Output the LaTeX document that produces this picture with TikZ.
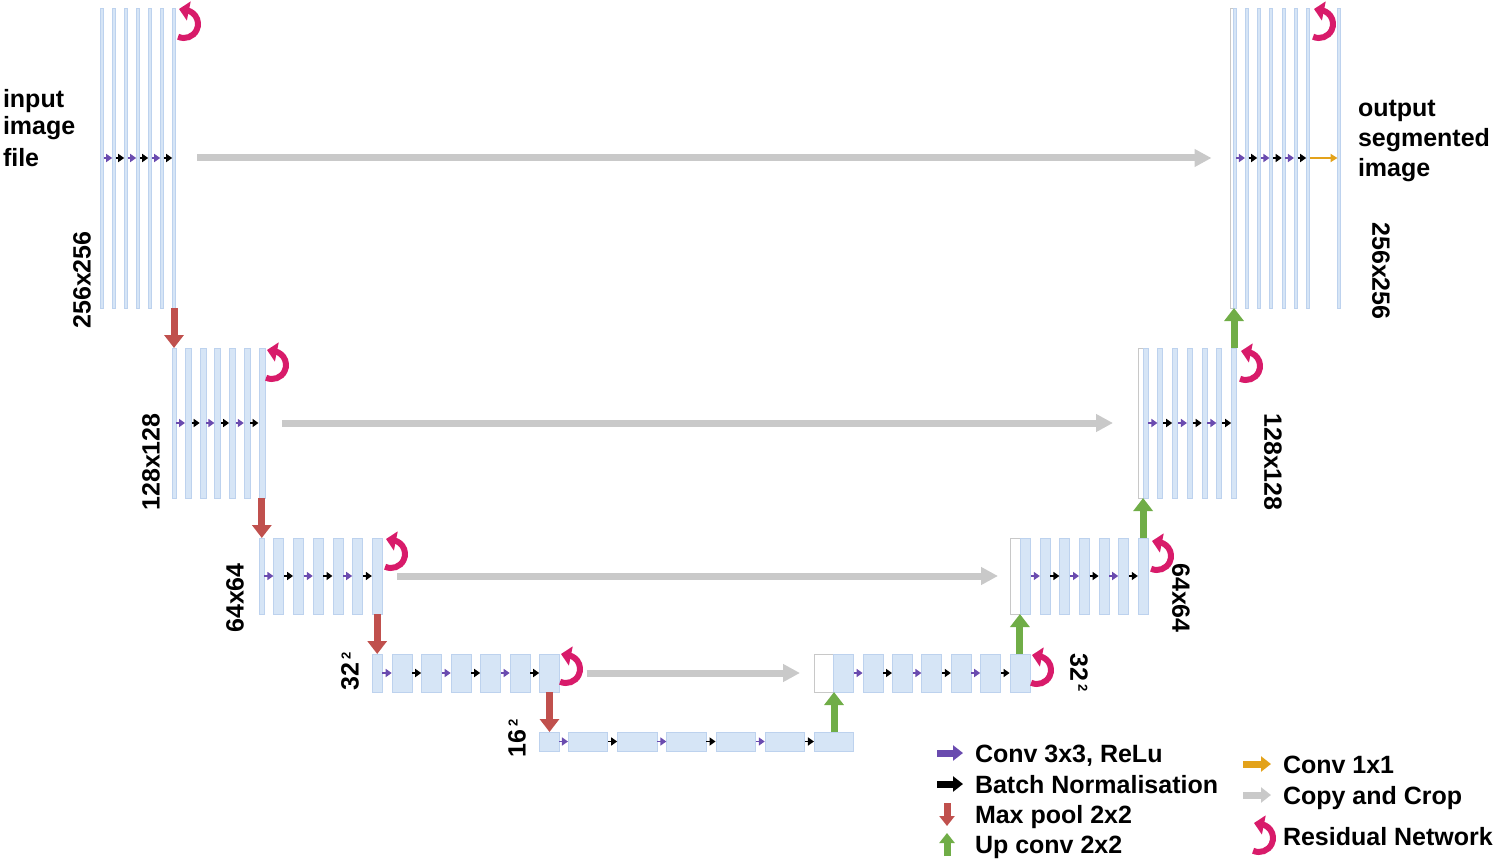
\documentclass[tikz,border=0pt]{standalone}
\usepackage{fontspec}
\setmainfont{Liberation Sans}
\usetikzlibrary{arrows.meta}
\definecolor{barfill}{HTML}{D6E5F6}
\definecolor{bardraw}{HTML}{BDD2EE}
\definecolor{convc}{HTML}{6A4BAF}
\definecolor{poolc}{HTML}{C0504D}
\definecolor{upc}{HTML}{70AD47}
\definecolor{onec}{HTML}{E3A21A}
\definecolor{copyc}{HTML}{C9C9C9}
\definecolor{resc}{HTML}{D81B6A}
\definecolor{wbox}{HTML}{C8C8C8}
\tikzset{
  bar/.style={draw=bardraw, fill=barfill, line width=0.6pt, inner sep=0pt, outer sep=0pt},
  wbar/.style={draw=wbox, fill=white, line width=0.8pt, inner sep=0pt, outer sep=0pt},
  conv/.style={draw=convc, line width=1.8pt, -{Triangle[length=6pt,width=8pt]}, shorten <=0.3pt, shorten >=0.3pt},
  bn/.style={draw=black, line width=1.8pt, -{Triangle[length=6pt,width=8pt]}, shorten <=0.3pt, shorten >=0.3pt},
  oneconv/.style={draw=onec, line width=1.8pt, -{Triangle[length=7pt,width=8pt]}},
  copyarrow/.style={draw=copyc, line width=7pt, -{Triangle[length=17pt,width=17pt]}},
  pool/.style={draw=poolc, line width=7pt, -{Triangle[length=13pt,width=19pt]}},
  upconv/.style={draw=upc, line width=7pt, -{Triangle[length=13pt,width=19pt]}},
  resarrow/.style={draw=resc, line width=6pt, -{Triangle[length=10pt,width=19pt]}},
  resnet/.pic={\draw[resarrow] (115:14) arc (115:-90:14) -- ++(-5,-1);},
  lab/.style={inner sep=0pt, outer sep=0pt},
  legicon/.style={line width=7pt, -{Triangle[length=10pt,width=15pt]}},
}
\newcommand{\supdig}{\raisebox{8pt}{\fontsize{13}{13}\selectfont 2}}
\begin{document}
\begin{tikzpicture}[x=1pt,y=-1pt, font=\fontsize{25}{30}\selectfont\bfseries]
\useasboundingbox (0,0) rectangle (1499,861);

% ---------- encoder ----------
\foreach \i in {1,...,7}
  \node[bar, minimum width=3pt, minimum height=300pt] (L1-\i) at ({102+12*(\i-1)},158) {};
\node[bar, minimum width=4pt, minimum height=150pt] (L2-1) at (174,423) {};
\foreach \i in {2,...,7}
  \node[bar, minimum width=6pt, minimum height=150pt] (L2-\i) at ({188.3+14.7*(\i-2)},423) {};
\node[bar, minimum width=5pt, minimum height=76pt] (L3-1) at (261.5,576) {};
\foreach \i in {2,...,7}
  \node[bar, minimum width=10pt, minimum height=76pt] (L3-\i) at ({278.7+19.7*(\i-2)},576) {};
\node[bar, minimum width=10pt, minimum height=38pt] (L4-1) at (377,673) {};
\foreach \i in {2,...,7}
  \node[bar, minimum width=20pt, minimum height=38pt] (L4-\i) at ({402+29.5*(\i-2)},673) {};
\node[bar, minimum width=20pt, minimum height=19pt] (L5-1) at (549,741.5) {};
\foreach \i in {2,...,7}
  \node[bar, minimum width=39.5pt, minimum height=19pt] (L5-\i) at ({588+49.2*(\i-2)},741.5) {};

% ---------- decoder ----------
\node[wbar, minimum width=20pt, minimum height=38pt] (R4-0) at (824,673) {};
\foreach \i in {1,...,7}
  \node[bar, minimum width=20pt, minimum height=38pt] (R4-\i) at ({843.5+29.4*(\i-1)},673) {};
\node[wbar, minimum width=11pt, minimum height=76pt] (R3-0) at (1015.5,576) {};
\foreach \i in {1,...,7}
  \node[bar, minimum width=10pt, minimum height=76pt] (R3-\i) at ({1025.5+19.6*(\i-1)},576) {};
\node[wbar, minimum width=5pt, minimum height=150pt] (R2-0) at (1140.5,423) {};
\foreach \i in {1,...,7}
  \node[bar, minimum width=5pt, minimum height=150pt] (R2-\i) at ({1145.5+14.75*(\i-1)},423) {};
\node[wbar, minimum width=3pt, minimum height=300pt] (R1-0) at (1231.5,158) {};
\foreach \i in {1,...,7}
  \node[bar, minimum width=3pt, minimum height=300pt] (R1-\i) at ({1234.5+12.25*(\i-1)},158) {};
\node[bar, minimum width=3pt, minimum height=300pt] (R1-8) at (1339,158) {};

% ---------- small arrows ----------
\foreach \L in {L1,L2,L3,L4,L5,R1,R2,R3,R4}
  \foreach \i/\j/\s in {1/2/conv,2/3/bn,3/4/conv,4/5/bn,5/6/conv,6/7/bn}
    \draw[\s] (\L-\i.east) -- (\L-\j.west);
\draw[oneconv] (R1-7.east) -- (R1-8.west);

% ---------- copy and crop ----------
\draw[copyarrow, shorten <=21.5pt, shorten >=18.5pt] (L1-7.east) -- (R1-0.west);
\draw[copyarrow, shorten <=17.3pt, shorten >=25pt] (L2-7.east) -- (R2-0.west);
\draw[copyarrow, shorten <=15pt, shorten >=12pt] (L3-7.east) -- (R3-0.west);
\draw[copyarrow, shorten <=27pt, shorten >=14pt] (L4-7.east) -- (R4-0.west);

% ---------- max pool ----------
\draw[pool] (L1-7.south) -- (L1-7.south |- L2-1.north);
\draw[pool] (L2-7.south) -- (L2-7.south |- L3-1.north);
\draw[pool] (L3-7.south) -- (L3-7.south |- L4-1.north);
\draw[pool] (L4-7.south) -- (L4-7.south |- L5-1.north);

% ---------- up conv ----------
\draw[upconv] (L5-7.north) -- (L5-7.north |- R4-0.south);
\draw[upconv] (R4-7.north) -- (R4-7.north |- R3-0.south);
\draw[upconv] (R3-7.north) -- (R3-7.north |- R2-0.south);
\draw[upconv] (R2-7.north) -- (R2-7.north |- R1-0.south);

% ---------- residual ----------
\pic at (184,24) {resnet};
\pic at (272,365) {resnet};
\pic at (391,554) {resnet};
\pic at (566,669) {resnet};
\pic at (1037,670) {resnet};
\pic at (1157,556) {resnet};
\pic at (1246,366) {resnet};
\pic at (1319,24) {resnet};

% ---------- labels ----------
\node[lab, anchor=base west] (in1) at (3,108) {input};
\node[lab, anchor=base west] (in2) at (3,135) {image};
\node[lab, anchor=base west] (in3) at (3,167) {file};
\node[lab, anchor=base west] (out1) at (1358,117) {output};
\node[lab, anchor=base west] (out2) at (1358,147) {segmented};
\node[lab, anchor=base west] (out3) at (1358,177) {image};

\node[lab, rotate=90] (s1l) at (82,280) {256x256};
\node[lab, rotate=90] (s2l) at (151,462) {128x128};
\node[lab, rotate=90] (s3l) at (235,598) {64x64};
\node[lab, rotate=90] (s4l) at (350,671) {32\hspace{3pt}\supdig};
\node[lab, rotate=90] (s5l) at (517,738) {16\hspace{3pt}\supdig};
\node[lab, rotate=-90] (s1r) at (1381,271) {256x256};
\node[lab, rotate=-90] (s2r) at (1273,462) {128x128};
\node[lab, rotate=-90] (s3r) at (1181,598) {64x64};
\node[lab, rotate=-90] (s4r) at (1079,673) {32\hspace{3pt}\supdig};

% ---------- legend ----------
\draw[legicon, convc] (937,753) -- (963,753);
\draw[legicon, black] (937,784) -- (963,784);
\draw[legicon, poolc] (947,803) -- (947,826);
\draw[legicon, upc] (947,856) -- (947,833);
\draw[legicon, onec] (1243,764) -- (1271,764);
\draw[legicon, copyc] (1243,795) -- (1271,795);
\pic at (1259,838) {resnet};
\node[lab, anchor=base west] (lg1) at (975,762) {Conv 3x3, ReLu};
\node[lab, anchor=base west] (lg2) at (975,793) {Batch Normalisation};
\node[lab, anchor=base west] (lg3) at (975,823) {Max pool 2x2};
\node[lab, anchor=base west] (lg4) at (975,853) {Up conv 2x2};
\node[lab, anchor=base west] (lg5) at (1283,773) {Conv 1x1};
\node[lab, anchor=base west] (lg6) at (1283,804) {Copy and Crop};
\node[lab, anchor=base west] (lg7) at (1283,845) {Residual Network};
\end{tikzpicture}
\end{document}
